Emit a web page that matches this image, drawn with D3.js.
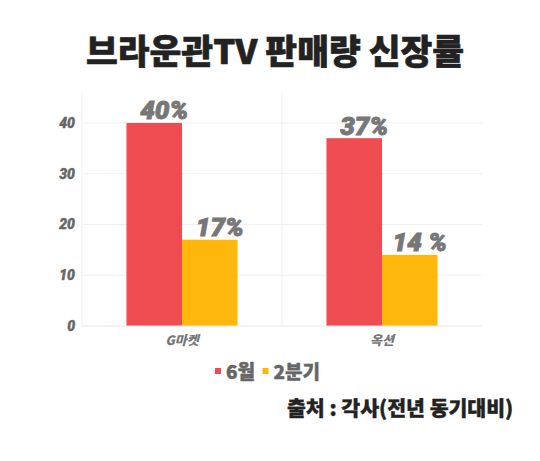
<!DOCTYPE html>
<html><head><meta charset="utf-8">
<script src="https://cdn.jsdelivr.net/npm/d3@7"></script>
<style>body{margin:0;background:#fff}svg{display:block}</style>
</head><body>
<svg id="c" width="540" height="461"></svg>
<script>
const categories = ["G마켓", "옥션"];
const seriesNames = ["6월", "2분기"];
const juneValues = [40, 37];
const quarterValues = [17, 14];
const valueLabels = [["40%", "17%"], ["37%", "14 %"]];
const yTicks = [0, 10, 20, 30, 40];
const colors = ["#EF4C51", "#FFB70B"];
const titleText = "브라운관TV 판매량 신장률";
const sourceText = "출처 : 각사(전년 동기대비)";

const svg = d3.select("#c");
const m = {left: 82, right: 482, top: 93, bottom: 326};
const x0 = d3.scaleBand().domain(categories).range([m.left, m.right]).padding(0);
const x1 = d3.scaleBand().domain(seriesNames).range([0, x0.bandwidth()]).paddingInner(0).paddingOuter(0.8);
const y = d3.scaleLinear().domain([0, 45.9]).range([m.bottom, m.top]);

const kr = "'Noto Sans CJK KR','Noto Sans',sans-serif";
const rb = "Roboto,'Noto Sans',sans-serif";

// title
svg.append("text").attr("x", 275).attr("y", 64).attr("text-anchor", "middle")
  .style("font-family", kr).style("font-weight", 900).style("font-size", "34px")
  .attr("fill", "#222").attr("stroke", "#222").attr("stroke-width", 0.6)
  .attr("textLength", 378).attr("lengthAdjust", "spacingAndGlyphs")
  .text(titleText);

// grid
svg.append("g").selectAll("line").data(yTicks.filter(d => d > 0)).join("line")
  .attr("x1", m.left).attr("x2", m.right).attr("y1", d => y(d)).attr("y2", d => y(d))
  .attr("stroke", "#efefef").attr("stroke-width", 1);
svg.append("g").selectAll("line").data(categories).join("line")
  .attr("x1", d => x0(d)).attr("x2", d => x0(d)).attr("y1", m.top).attr("y2", m.bottom)
  .attr("stroke", "#efefef").attr("stroke-width", 1);

// y axis labels
const yAxis = d3.axisLeft(y).tickValues(yTicks).tickSize(0).tickPadding(7);
const ga = svg.append("g").attr("transform", `translate(${m.left},0)`).call(yAxis);
ga.select(".domain").remove();
ga.selectAll("text").style("font-family", rb).style("font-weight", 900).style("font-style", "italic")
  .style("font-size", "14px").attr("fill", "#666").attr("stroke", "#666").attr("stroke-width", 0.4);

// bars
const data = categories.map((c, i) => ({cat: c, vals: [juneValues[i], quarterValues[i]], labels: valueLabels[i]}));
const g = svg.append("g").selectAll("g").data(data).join("g")
  .attr("transform", d => `translate(${x0(d.cat)},0)`);
g.selectAll("rect").data(d => d.vals.map((v, j) => ({s: seriesNames[j], v, j}))).join("rect")
  .attr("x", d => x1(d.s)).attr("width", x1.bandwidth())
  .attr("y", d => y(d.v)).attr("height", d => y(0) - y(d.v))
  .attr("fill", d => colors[d.j]);
g.selectAll("text.v").data(d => d.vals.map((v, j) => ({s: seriesNames[j], v, j, l: d.labels[j]}))).join("text")
  .attr("class", "v")
  .attr("x", d => x1(d.s) + x1.bandwidth() / 2 + 10).attr("y", d => y(d.v) - 3.5)
  .attr("text-anchor", "middle")
  .style("font-family", rb).style("font-weight", 900).style("font-style", "italic").style("font-size", "26px")
  .attr("fill", "#777").attr("stroke", "#777").attr("stroke-width", 1)
  .text(d => d.l);

// baseline
svg.append("line").attr("x1", m.left).attr("x2", m.right).attr("y1", y(0)).attr("y2", y(0))
  .attr("stroke", "#e6e6e6");

// x axis
const xAxis = d3.axisBottom(x0).tickSize(0).tickPadding(10);
const gx = svg.append("g").attr("transform", `translate(0,${m.bottom})`).call(xAxis);
gx.select(".domain").remove();
gx.selectAll("text").style("font-family", kr).style("font-weight", 900).style("font-style", "italic")
  .style("font-size", "13px").attr("fill", "#777");

// legend
const legX = [215, 262.5];
const lg = svg.append("g").selectAll("g").data(seriesNames).join("g")
  .attr("transform", (d, i) => `translate(${legX[i]},368)`);
lg.append("rect").attr("width", 6).attr("height", 6).attr("fill", (d, i) => colors[i]);
lg.append("text").attr("x", 11).attr("y", 10.5)
  .style("font-family", kr).style("font-weight", 900).style("font-size", "19px")
  .attr("fill", "#666").attr("stroke", "#666").attr("stroke-width", 0.4).text(d => d);

// source
svg.append("text").attr("x", 287).attr("y", 416)
  .style("font-family", kr).style("font-weight", 900).style("font-size", "20.5px")
  .attr("fill", "#222").attr("stroke", "#222").attr("stroke-width", 0.4)
  .text(sourceText);
</script>
</body></html>
